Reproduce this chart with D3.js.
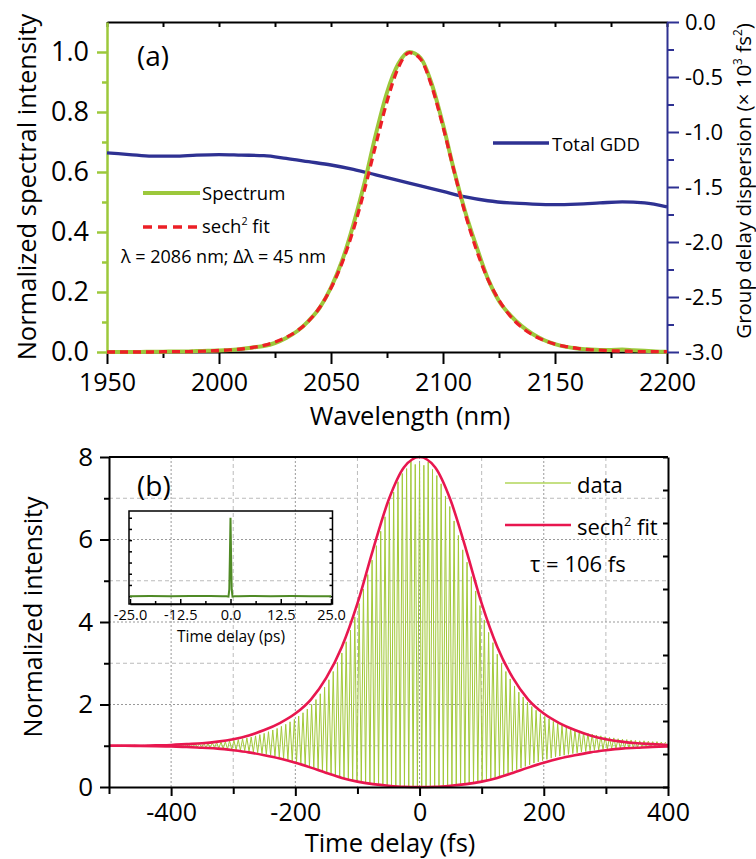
<!DOCTYPE html>
<html>
<head>
<meta charset="utf-8">
<script src="https://cdn.jsdelivr.net/npm/d3@7"></script>
<style>
  body { margin: 0; background: #fff; }
  svg text { font-family: "Open Sans", sans-serif; fill: #000; }
</style>
</head>
<body>
<svg id="chart" width="756" height="859"></svg>
<script>
// ---------- panel (a): spectrum + GDD ----------
const specStart = 1950, specStep = 5;   // nm
const spectrum = [
  0.000, 0.000, 0.000, 0.000, 0.001, 0.001, 0.002, 0.002, 0.003, 0.004,
  0.005, 0.007, 0.010, 0.015, 0.020, 0.030, 0.047, 0.070, 0.104, 0.148,
  0.215, 0.305, 0.425, 0.565, 0.725, 0.865, 0.960, 1.000, 0.980, 0.893,
  0.758, 0.603, 0.465, 0.350, 0.245, 0.170, 0.123, 0.087, 0.060, 0.040,
  0.026, 0.017, 0.012, 0.009, 0.007, 0.007, 0.008, 0.006, 0.004, 0.002, 0.001
];
const specFit = [
  0.000, 0.000, 0.000, 0.000, 0.000, 0.001, 0.001, 0.001, 0.002, 0.003,
  0.005, 0.007, 0.010, 0.015, 0.022, 0.033, 0.049, 0.071, 0.103, 0.149,
  0.213, 0.298, 0.408, 0.542, 0.691, 0.835, 0.947, 0.998, 0.976, 0.885,
  0.751, 0.601, 0.459, 0.339, 0.243, 0.173, 0.120, 0.083, 0.057, 0.039,
  0.026, 0.018, 0.012, 0.008, 0.006, 0.004, 0.003, 0.002, 0.001, 0.001, 0.001
];
const gddStart = 1950, gddStep = 10;    // nm, values in 10^3 fs^2
const gdd = [
  -1.19, -1.205, -1.22, -1.22, -1.21, -1.205, -1.21, -1.215, -1.24, -1.27,
  -1.30, -1.34, -1.39, -1.44, -1.49, -1.54, -1.59, -1.625, -1.645, -1.655,
  -1.66, -1.655, -1.645, -1.635, -1.645, -1.68
];
const aXTicks = [1950, 2000, 2050, 2100, 2150, 2200];
const aXMinor = [1975, 2025, 2075, 2125, 2175];
const aYTicks = [0, 0.2, 0.4, 0.6, 0.8, 1.0];
const aYMinor = [0.1, 0.3, 0.5, 0.7, 0.9];
const gddTicks = [0, -0.5, -1.0, -1.5, -2.0, -2.5, -3.0];
const gddMinor = [-0.25, -0.75, -1.25, -1.75, -2.25, -2.75];

// ---------- panel (b): interferometric autocorrelation ----------
const fringeStart = -500.4, fringePeriod = 6.95;   // fs
const acTop = [
  1.01, 1.01, 1.01, 1.01, 1.01, 1.01, 1.01, 1.01, 1.01, 1.01, 1.01, 1.02,
  1.02, 1.02, 1.02, 1.03, 1.03, 1.03, 1.04, 1.04, 1.05, 1.05,
  1.06, 1.06, 1.07, 1.08, 1.09, 1.10, 1.12, 1.13, 1.15, 1.17,
  1.19, 1.21, 1.24, 1.27, 1.30, 1.34, 1.38, 1.42, 1.47, 1.52,
  1.58, 1.64, 1.72, 1.80, 1.89, 2.00, 2.12, 2.26, 2.42, 2.60,
  2.80, 3.02, 3.25, 3.52, 3.80, 4.12, 4.45, 4.80, 5.15, 5.50,
  5.85, 6.20, 6.55, 6.90, 7.15, 7.40, 7.60, 7.72, 7.90, 7.82,
  7.85, 7.80, 7.88, 7.70, 7.55, 7.35, 7.05, 6.80, 6.45, 6.10,
  5.75, 5.45, 5.10, 4.75, 4.40, 4.05, 3.75, 3.50, 3.22, 3.00,
  2.80, 2.62, 2.45, 2.30, 2.18, 2.06, 1.95, 1.86, 1.78, 1.71,
  1.65, 1.59, 1.54, 1.50, 1.46, 1.42, 1.39, 1.36, 1.33, 1.30,
  1.28, 1.26, 1.24, 1.22, 1.20, 1.19, 1.17, 1.16, 1.15, 1.14,
  1.13, 1.12, 1.12, 1.11, 1.10, 1.10, 1.09, 1.09
];
const acBottom = [
  0.99, 0.99, 0.99, 0.99, 0.99, 0.99, 0.99, 0.99, 0.99, 0.99, 0.99, 0.99,
  0.99, 0.99, 0.98, 0.98, 0.98, 0.98, 0.97, 0.97, 0.97, 0.96,
  0.96, 0.95, 0.95, 0.94, 0.93, 0.92, 0.91, 0.90, 0.89, 0.88,
  0.86, 0.85, 0.83, 0.81, 0.79, 0.77, 0.74, 0.72, 0.69, 0.66,
  0.63, 0.60, 0.57, 0.54, 0.50, 0.46, 0.42, 0.38, 0.34, 0.30,
  0.27, 0.23, 0.20, 0.17, 0.15, 0.12, 0.10, 0.08, 0.07, 0.05,
  0.04, 0.03, 0.02, 0.02, 0.01, 0.01, 0.00, 0.00, 0.00, 0.00,
  0.00, 0.00, 0.00, 0.01, 0.01, 0.02, 0.02, 0.03, 0.04, 0.05,
  0.06, 0.08, 0.10, 0.12, 0.14, 0.17, 0.20, 0.23, 0.26, 0.30,
  0.34, 0.38, 0.42, 0.46, 0.50, 0.54, 0.58, 0.61, 0.64, 0.67,
  0.70, 0.73, 0.75, 0.77, 0.79, 0.81, 0.83, 0.85, 0.86, 0.88,
  0.89, 0.90, 0.91, 0.92, 0.93, 0.94, 0.94, 0.95, 0.95, 0.96,
  0.96, 0.97, 0.97, 0.97, 0.98, 0.98, 0.98
];
const fitStart = -500, fitStep = 25;    // fs
const fitUpper = [
  1.00, 1.00, 1.00, 1.01, 1.02, 1.04, 1.06, 1.10, 1.16, 1.25,
  1.38, 1.55, 1.78, 2.12, 2.65, 3.40, 4.45, 5.75, 6.95, 7.75,
  8.00, 7.75, 6.95, 5.75, 4.45, 3.40, 2.65, 2.12, 1.78, 1.55,
  1.38, 1.25, 1.16, 1.10, 1.06, 1.04, 1.02
];
const fitLower = [
  1.00, 1.00, 0.995, 0.99, 0.98, 0.97, 0.95, 0.93, 0.89, 0.84,
  0.77, 0.69, 0.59, 0.47, 0.34, 0.22, 0.13, 0.07, 0.03, 0.005,
  0.00, 0.005, 0.03, 0.07, 0.13, 0.22, 0.34, 0.47, 0.59, 0.69,
  0.77, 0.84, 0.89, 0.93, 0.95, 0.97, 0.98
];
const bXTicks = [-400, -200, 0, 200, 400];
const bXMinor = [-500, -300, -100, 100, 300];
const bGrid = [-400, -300, -200, -100, 0, 100, 200, 300];
const bYTicks = [0, 2, 4, 6, 8];
const bYMinor = [1, 3, 5, 7];

// inset: long-range trace (ps)
const insetTime = [-25, -20, -15, -10, -5, -2, -1, -0.5, -0.3, -0.15, 0, 0.15, 0.3, 0.5, 1, 2, 5, 10, 15, 20, 25];
const insetVal  = [1.00, 1.01, 1.00, 1.02, 1.01, 1.00, 1.00, 0.96, 1.6, 4.5, 8.0, 4.5, 1.6, 0.96, 1.0, 1.0, 1.01, 1.00, 1.01, 1.00, 1.00];
const insetXTicks = [-25, -12.5, 0, 12.5, 25];
const insetXMinor = [-18.75, -6.25, 6.25, 18.75];
const insetYTicks = [1, 2, 3, 4, 5, 6, 7, 8];

const green = "#9cc83b", red = "#ec1f26", navy = "#2e3192";
const acGreen = "#a2c93a", fitPink = "#e8174f", insetGreen = "#4f8a25";

const svg = d3.select("#chart");

function styleAxis(g, color, width, fontSize) {
    g.select(".domain").attr("stroke", color).attr("stroke-width", width);
    g.selectAll(".tick line").attr("stroke", color).attr("stroke-width", width);
    g.selectAll(".tick text").attr("font-size", fontSize).attr("font-family", "Open Sans").attr("fill", "#000");
}

function minorTicks(g, axis) {
    g.call(axis.tickFormat(""));
    g.select(".domain").remove();
}

function supText(sel, parts, size) {
    // parts: [text, sup, text, ...]
    parts.forEach((p, i) => {
        const t = sel.append("tspan").text(p);
        if (i % 2 === 1) t.attr("font-size", size * 0.58).attr("dy", -size * 0.42);
        else if (i > 0) t.attr("dy", size * 0.42);
    });
}

function buildPanelA() {
    const x = d3.scaleLinear().domain([1950, 2200]).range([107, 667]);
    const y = d3.scaleLinear().domain([0, 1.1]).range([352, 22]);
    const yG = d3.scaleLinear().domain([-3, 0]).range([352, 22]);

    // top frame with small inward ticks
    const top = svg.append("g").attr("transform", "translate(0,22)")
        .call(d3.axisTop(x).tickValues(aXTicks.concat(aXMinor)).tickSize(-5).tickSizeOuter(0).tickFormat(""));
    styleAxis(top, "#000", 2, 0);

    // bottom axis
    const bottom = svg.append("g").attr("transform", "translate(0,352)")
        .call(d3.axisBottom(x).tickValues(aXTicks).tickSize(12).tickSizeOuter(0).tickPadding(9).tickFormat(d3.format("d")));
    styleAxis(bottom, "#000", 2, 25);
    const bMin = svg.append("g").attr("transform", "translate(0,352)");
    minorTicks(bMin, d3.axisBottom(x).tickValues(aXMinor).tickSize(6));
    styleAxis(bMin, "#000", 2, 0);

    // left axis (spectrum)
    const left = svg.append("g").attr("transform", "translate(107,0)")
        .call(d3.axisLeft(y).tickValues(aYTicks).tickSize(10).tickSizeOuter(0).tickPadding(8).tickFormat(d3.format(".1f")));
    styleAxis(left, green, 2.5, 27);
    const lMin = svg.append("g").attr("transform", "translate(107,0)");
    minorTicks(lMin, d3.axisLeft(y).tickValues(aYMinor).tickSize(5));
    styleAxis(lMin, green, 2.5, 0);

    // right axis (GDD)
    const right = svg.append("g").attr("transform", "translate(667,0)")
        .call(d3.axisRight(yG).tickValues(gddTicks).tickSize(12).tickSizeOuter(0).tickPadding(6).tickFormat(d3.format(".1f")));
    styleAxis(right, navy, 2, 22);
    right.selectAll(".tick text").text(d => d3.format(".1f")(d).replace("−", "-"));
    const rMin = svg.append("g").attr("transform", "translate(667,0)");
    minorTicks(rMin, d3.axisRight(yG).tickValues(gddMinor).tickSize(7));
    styleAxis(rMin, navy, 2, 0);

    // curves
    const gddLine = d3.line().x((d, i) => x(gddStart + i * gddStep)).y(d => yG(d)).curve(d3.curveMonotoneX);
    svg.append("path").attr("d", gddLine(gdd)).attr("fill", "none").attr("stroke", navy).attr("stroke-width", 3.3);

    const specLine = d3.line().x((d, i) => x(specStart + i * specStep)).y(d => y(d)).curve(d3.curveMonotoneX);
    svg.append("path").attr("d", specLine(spectrum)).attr("fill", "none").attr("stroke", green).attr("stroke-width", 4);
    svg.append("path").attr("d", specLine(specFit)).attr("fill", "none").attr("stroke", red)
        .attr("stroke-width", 3.3).attr("stroke-dasharray", "8,5");

    // labels
    svg.append("text").attr("x", 137).attr("y", 66).attr("font-size", 28).text("(a)");
    svg.append("text").attr("x", 410).attr("y", 425).attr("text-anchor", "middle").attr("font-size", 25.5).text("Wavelength (nm)");
    svg.append("text").attr("transform", "translate(36,187) rotate(-90)").attr("text-anchor", "middle")
        .attr("font-size", 25.5).text("Normalized spectral intensity");
    const rl = svg.append("text").attr("transform", "translate(751,181) rotate(-90)").attr("text-anchor", "middle")
        .attr("font-size", 20.5);
    supText(rl, ["Group delay dispersion (× 10", "3", " fs", "2", ")"], 20.5);

    // legends
    svg.append("line").attr("x1", 143).attr("x2", 200).attr("y1", 193).attr("y2", 193)
        .attr("stroke", green).attr("stroke-width", 4);
    svg.append("text").attr("x", 202).attr("y", 200).attr("font-size", 18.5).text("Spectrum");
    svg.append("line").attr("x1", 143).attr("x2", 198).attr("y1", 227).attr("y2", 227)
        .attr("stroke", red).attr("stroke-width", 3.3).attr("stroke-dasharray", "9,6");
    const sf = svg.append("text").attr("x", 202).attr("y", 233).attr("font-size", 18.5);
    supText(sf, ["sech", "2", " fit"], 18.5);
    svg.append("text").attr("x", 121).attr("y", 263).attr("font-size", 18).text("λ = 2086 nm; Δλ = 45 nm");
    svg.append("line").attr("x1", 493).attr("x2", 549).attr("y1", 143).attr("y2", 143)
        .attr("stroke", navy).attr("stroke-width", 3.3);
    svg.append("text").attr("x", 552).attr("y", 151).attr("font-size", 18.5).text("Total GDD");
}

function buildPanelB() {
    const x = d3.scaleLinear().domain([-500, 400]).range([109, 668]);
    const y = d3.scaleLinear().domain([0, 8]).range([787, 457]);

    // grid
    const grid = svg.append("g");
    grid.selectAll(".vg").data(bGrid).enter().append("line")
        .attr("x1", d => x(d)).attr("x2", d => x(d)).attr("y1", 457).attr("y2", 787)
        .attr("stroke", d => d % 200 === 0 ? "#999" : "#bbb").attr("stroke-width", 1)
        .attr("stroke-dasharray", d => d % 200 === 0 ? "2,2" : "4,3");
    grid.selectAll(".hg").data(d3.range(1, 8)).enter().append("line")
        .attr("x1", 109).attr("x2", 668).attr("y1", d => y(d)).attr("y2", d => y(d))
        .attr("stroke", d => d % 2 === 0 ? "#999" : "#bbb").attr("stroke-width", 1)
        .attr("stroke-dasharray", d => d % 2 === 0 ? "2,2" : "4,3");

    svg.append("clipPath").attr("id", "clipB").append("rect")
        .attr("x", 109).attr("y", 450).attr("width", 559).attr("height", 345);

    // fringes: alternate fringe maxima and minima
    const pts = [];
    acTop.forEach((v, k) => {
        pts.push([fringeStart + k * fringePeriod, v]);
        if (k < acBottom.length) pts.push([fringeStart + (k + 0.5) * fringePeriod, acBottom[k]]);
    });
    const acLine = d3.line().x(d => x(d[0])).y(d => y(d[1]));
    svg.append("path").attr("d", acLine(pts)).attr("clip-path", "url(#clipB)")
        .attr("fill", "none").attr("stroke", acGreen).attr("stroke-width", 1);

    const fitLine = d3.line().x((d, i) => x(fitStart + i * fitStep)).y(d => y(d)).curve(d3.curveMonotoneX);
    svg.append("path").attr("d", fitLine(fitUpper)).attr("fill", "none").attr("stroke", fitPink).attr("stroke-width", 2.6);
    svg.append("path").attr("d", fitLine(fitLower)).attr("fill", "none").attr("stroke", fitPink).attr("stroke-width", 2.6);

    // frame
    svg.append("line").attr("x1", 109).attr("x2", 668).attr("y1", 457).attr("y2", 457).attr("stroke", "#000").attr("stroke-width", 2);
    const yR = d3.scaleLinear().domain([0, 10]).range([787, 457]);
    const right = svg.append("g").attr("transform", "translate(668,0)")
        .call(d3.axisLeft(yR).ticks(10).tickSize(5).tickSizeOuter(0).tickFormat(""));
    styleAxis(right, "#000", 2, 0);

    const bottom = svg.append("g").attr("transform", "translate(0,787)")
        .call(d3.axisBottom(x).tickValues(bXTicks).tickSize(9).tickSizeOuter(0).tickPadding(7));
    styleAxis(bottom, "#000", 2, 25);
    bottom.selectAll(".tick text").text(d => String(d));
    const bMin = svg.append("g").attr("transform", "translate(0,787)");
    minorTicks(bMin, d3.axisBottom(x).tickValues(bXMinor).tickSize(7));
    styleAxis(bMin, "#000", 2, 0);

    const left = svg.append("g").attr("transform", "translate(109,0)")
        .call(d3.axisLeft(y).tickValues(bYTicks).tickSize(9).tickSizeOuter(0).tickPadding(7));
    styleAxis(left, "#000", 2, 26);
    const lMin = svg.append("g").attr("transform", "translate(109,0)");
    minorTicks(lMin, d3.axisLeft(y).tickValues(bYMinor).tickSize(5));
    styleAxis(lMin, "#000", 2, 0);

    svg.append("text").attr("x", 137).attr("y", 496).attr("font-size", 28).text("(b)");
    svg.append("text").attr("x", 390).attr("y", 852).attr("text-anchor", "middle").attr("font-size", 25.5).text("Time delay (fs)");
    svg.append("text").attr("transform", "translate(42,617) rotate(-90)").attr("text-anchor", "middle")
        .attr("font-size", 25).text("Normalized intensity");

    // legend
    svg.append("line").attr("x1", 505).attr("x2", 571).attr("y1", 483).attr("y2", 483)
        .attr("stroke", "#b2d65a").attr("stroke-width", 1.5);
    svg.append("text").attr("x", 577).attr("y", 493).attr("font-size", 22).text("data");
    svg.append("line").attr("x1", 505).attr("x2", 571).attr("y1", 525).attr("y2", 525)
        .attr("stroke", fitPink).attr("stroke-width", 2.6);
    const sf = svg.append("text").attr("x", 577).attr("y", 535).attr("font-size", 22);
    supText(sf, ["sech", "2", " fit"], 22);
    svg.append("text").attr("x", 530).attr("y", 572).attr("font-size", 22).text("τ = 106 fs");

    buildInset();
}

function buildInset() {
    const x = d3.scaleLinear().domain([-25, 25]).range([130, 331]);
    const y = d3.scaleLinear().domain([0.3, 8.6]).range([604, 511]);

    const g = svg.append("g");
    g.append("rect").attr("x", 129).attr("y", 511).attr("width", 203.5).attr("height", 93)
        .attr("fill", "none").attr("stroke", "#000").attr("stroke-width", 1.5);

    const bottom = g.append("g").attr("transform", "translate(0,604)")
        .call(d3.axisBottom(x).tickValues(insetXTicks).tickSize(-5).tickSizeOuter(0).tickPadding(6).tickFormat(d3.format(".1f")));
    styleAxis(bottom, "#000", 1.5, 14.5);
    bottom.selectAll(".tick text").text(d => d3.format(".1f")(d).replace("−", "-"));
    const bMin = g.append("g").attr("transform", "translate(0,604)");
    minorTicks(bMin, d3.axisBottom(x).tickValues(insetXMinor).tickSize(-3));
    styleAxis(bMin, "#000", 1.5, 0);

    const left = g.append("g").attr("transform", "translate(129,0)");
    minorTicks(left, d3.axisRight(y).tickValues(insetYTicks).tickSize(3));
    styleAxis(left, "#000", 1.5, 0);
    const right = g.append("g").attr("transform", "translate(332.5,0)");
    minorTicks(right, d3.axisLeft(y).tickValues(insetYTicks).tickSize(3));
    styleAxis(right, "#000", 1.5, 0);

    const line = d3.line().x((d, i) => x(insetTime[i])).y(d => y(d));
    g.append("path").attr("d", line(insetVal)).attr("fill", "none")
        .attr("stroke", insetGreen).attr("stroke-width", 2);

    g.append("text").attr("x", 231).attr("y", 642).attr("text-anchor", "middle").attr("font-size", 15.5).text("Time delay (ps)");
}

buildPanelA();
buildPanelB();
</script>
</body>
</html>
